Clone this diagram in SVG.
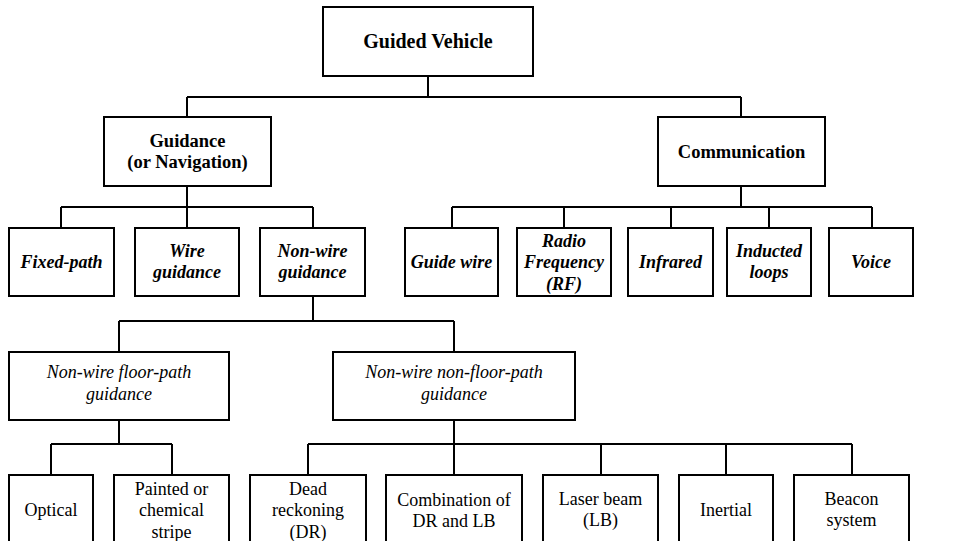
<svg xmlns="http://www.w3.org/2000/svg" width="976" height="541" viewBox="0 0 976 541">
<style>
.box{fill:#fff;stroke:#000;stroke-width:2}
.c{fill:none;stroke:#000;stroke-width:2}
text{fill:#000;text-anchor:middle}
.t1{font-size:20px;font-weight:bold}
.t2{font-size:18.5px;font-weight:bold}
.t3{font-size:18px;font-weight:bold;font-style:italic}
.t4{font-size:18px;font-style:italic}
.t5{font-size:18px}
</style>
<rect width="976" height="541" fill="#fff"/>
<g id="connectors">
<path class="c" d="M428 76V97M187 97H741M187 97V117M741 97V117"/>
<path class="c" d="M187 186V207M61 207H313M61 207V228M187 207V228M313 207V228"/>
<path class="c" d="M741 186V207M452 207H872M452 207V228M564 207V228M671 207V228M769 207V228M872 207V228"/>
<path class="c" d="M313 296V321M119 321H454M119 321V352M454 321V352"/>
<path class="c" d="M119 420V444M51 444H172M51 444V475M172 444V475"/>
<path class="c" d="M454 420V444M308 444H852M308 444V475M454 444V475M601 444V475M726 444V475M852 444V475"/>
</g>
<g font-family="'Liberation Serif', 'Times New Roman', Tinos, 'DejaVu Serif', serif">
<g id="guided-vehicle"><rect class="box" x="323" y="7" width="210" height="69"/><text class="t1" x="428" y="48">Guided Vehicle</text></g>
<g id="guidance"><rect class="box" x="104" y="117" width="167" height="69"/><text class="t2" x="187.5" y="147">Guidance</text><text class="t2" x="187.5" y="168">(or Navigation)</text></g>
<g id="communication"><rect class="box" x="658" y="117" width="167" height="69"/><text class="t2" x="741.5" y="158">Communication</text></g>
<g id="fixed-path"><rect class="box" x="9" y="228" width="105" height="68"/><text class="t3" x="61.5" y="268">Fixed-path</text></g>
<g id="wire-guidance"><rect class="box" x="135" y="228" width="104" height="68"/><text class="t3" x="187" y="257">Wire</text><text class="t3" x="187" y="278">guidance</text></g>
<g id="non-wire-guidance"><rect class="box" x="260" y="228" width="105" height="68"/><text class="t3" x="312.5" y="257">Non-wire</text><text class="t3" x="312.5" y="278">guidance</text></g>
<g id="guide-wire"><rect class="box" x="405" y="228" width="93" height="68"/><text class="t3" x="451.5" y="268">Guide wire</text></g>
<g id="radio-frequency"><rect class="box" x="517" y="228" width="94" height="68"/><text class="t3" x="564" y="246.5">Radio</text><text class="t3" x="564" y="268">Frequency</text><text class="t3" x="564" y="289.5">(RF)</text></g>
<g id="infrared"><rect class="box" x="628" y="228" width="85" height="68"/><text class="t3" x="670.5" y="268">Infrared</text></g>
<g id="inducted-loops"><rect class="box" x="727" y="228" width="84" height="68"/><text class="t3" x="769" y="257">Inducted</text><text class="t3" x="769" y="278">loops</text></g>
<g id="voice"><rect class="box" x="829" y="228" width="84" height="68"/><text class="t3" x="871" y="268">Voice</text></g>
<g id="floor-path"><rect class="box" x="9" y="352" width="220" height="68"/><text class="t4" x="119" y="378">Non-wire floor-path</text><text class="t4" x="119" y="400">guidance</text></g>
<g id="non-floor-path"><rect class="box" x="333" y="352" width="242" height="68"/><text class="t4" x="454" y="378">Non-wire non-floor-path</text><text class="t4" x="454" y="400">guidance</text></g>
<g id="optical"><rect class="box" x="9" y="475" width="84" height="75"/><text class="t5" x="51" y="516">Optical</text></g>
<g id="painted"><rect class="box" x="114" y="475" width="115" height="75"/><text class="t5" x="171.5" y="494.5">Painted or</text><text class="t5" x="171.5" y="516">chemical</text><text class="t5" x="171.5" y="537.5">stripe</text></g>
<g id="dead-reckoning"><rect class="box" x="250" y="475" width="116" height="75"/><text class="t5" x="308" y="494.5">Dead</text><text class="t5" x="308" y="516">reckoning</text><text class="t5" x="308" y="537.5">(DR)</text></g>
<g id="combination"><rect class="box" x="386" y="475" width="136" height="75"/><text class="t5" x="454" y="505.5">Combination of</text><text class="t5" x="454" y="527">DR and LB</text></g>
<g id="laser-beam"><rect class="box" x="543" y="475" width="115" height="75"/><text class="t5" x="600.5" y="505">Laser beam</text><text class="t5" x="600.5" y="526">(LB)</text></g>
<g id="inertial"><rect class="box" x="679" y="475" width="94" height="75"/><text class="t5" x="726" y="516">Inertial</text></g>
<g id="beacon"><rect class="box" x="794" y="475" width="115" height="75"/><text class="t5" x="851.5" y="505">Beacon</text><text class="t5" x="851.5" y="526">system</text></g>
</g>
</svg>
